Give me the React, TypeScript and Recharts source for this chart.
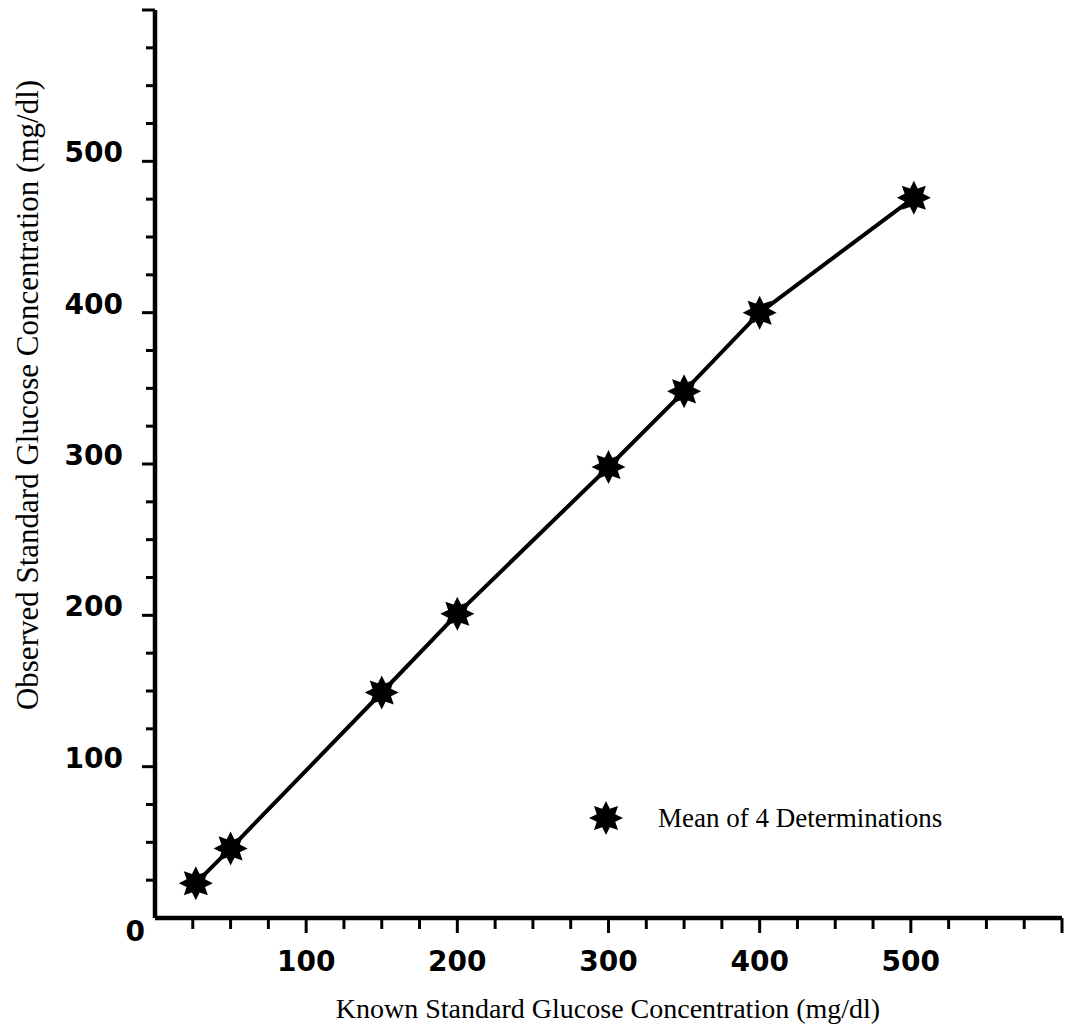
import { LineChart, Line, XAxis, YAxis, Legend } from "recharts";

// glucose standards: known vs observed (mean of 4 runs)
const knownConc = [27, 50, 150, 200, 300, 350, 400, 502];
const observedConc = [23, 46, 149, 201, 298, 348, 400, 476];

const xTicks = [25, 50, 75, 100, 125, 150, 175, 200, 225, 250, 275, 300, 325, 350, 375, 400, 425, 450, 475, 500, 525, 550, 575, 600];
const yTicks = [0, 25, 50, 75, 100, 125, 150, 175, 200, 225, 250, 275, 300, 325, 350, 375, 400, 425, 450, 475, 500, 525, 550, 575, 600];
const labelledTicks = [100, 200, 300, 400, 500];

const xTitle = "Known Standard Glucose Concentration (mg/dl)";
const yTitle = "Observed Standard Glucose Concentration (mg/dl)";
const legendLabel = "Mean of 4 Determinations";

const data = knownConc.map((k, i) => ({ known: k, observed: observedConc[i] }));

const tickFont = { fontFamily: "DejaVu Sans", fontWeight: 700, fontSize: 28 };
const serif = "Liberation Serif";

function starPoints(cx: number, cy: number, outer: number, inner: number) {
  const pts: string[] = [];
  for (let i = 0; i < 16; i++) {
    const r = i % 2 === 0 ? outer : inner;
    const a = (Math.PI / 8) * i - Math.PI / 2;
    pts.push(`${cx + r * Math.cos(a)},${cy + r * Math.sin(a)}`);
  }
  return pts.join(" ");
}

function XTick(props: any) {
  const { x, y, payload } = props;
  const v = payload.value;
  const major = v % 100 === 0;
  return (
    <g>
      <line x1={x} x2={x} y1={y} y2={y + (major ? 15 : 11)} stroke="#000" strokeWidth={3} />
      {labelledTicks.includes(v) && (
        <text x={x} y={y + 53} textAnchor="middle" fill="#000" {...tickFont}>
          {v}
        </text>
      )}
    </g>
  );
}

function YTick(props: any) {
  const { x, y, payload } = props;
  const v = payload.value;
  if (v === 0) {
    return (
      <text x={x - 10} y={y + 23} textAnchor="end" fill="#000" {...tickFont}>
        {v}
      </text>
    );
  }
  const major = v % 100 === 0;
  return (
    <g>
      <line x1={x - (major ? 13 : 9)} x2={x} y1={y} y2={y} stroke="#000" strokeWidth={3} />
      {labelledTicks.includes(v) && (
        <text x={x - 32} y={y + 1} textAnchor="end" fill="#000" {...tickFont}>
          {v}
        </text>
      )}
    </g>
  );
}

export default function App() {
  return (
    <div style={{ position: "absolute", left: 0, top: 0, background: "#fff" }}>
      <LineChart width={1073} height={1034} data={data} margin={{ top: 10, right: 11, bottom: 0, left: 0 }}>
        <XAxis
          dataKey="known"
          type="number"
          domain={[0, 600]}
          ticks={xTicks}
          interval={0}
          height={116}
          tickSize={0}
          tickMargin={0}
          tickLine={false}
          axisLine={{ stroke: "#000", strokeWidth: 4.5 }}
          tick={<XTick />}
          label={() => (
            <text x={608} y={1018} textAnchor="middle" fill="#000" fontFamily={serif} fontSize={28}>
              {xTitle}
            </text>
          )}
        />
        <YAxis
          dataKey="observed"
          type="number"
          domain={[0, 600]}
          ticks={yTicks}
          interval={0}
          width={155}
          tickSize={0}
          tickMargin={0}
          tickLine={false}
          axisLine={{ stroke: "#000", strokeWidth: 4.5 }}
          tick={<YTick />}
          label={() => (
            <text
              x={38}
              y={395}
              transform="rotate(-90 38 395)"
              textAnchor="middle"
              fill="#000"
              fontFamily={serif}
              fontSize={31}
            >
              {yTitle}
            </text>
          )}
        />
        <Legend
          layout="horizontal"
          verticalAlign="middle"
          align="center"
          wrapperStyle={{ left: 588, top: 798, width: 420, height: 40 }}
          content={() => (
            <svg width={420} height={40}>
              <polygon points={starPoints(18, 20, 17, 10)} fill="#000" />
              <text x={70} y={29} fill="#000" fontFamily={serif} fontSize={27}>
                {legendLabel}
              </text>
            </svg>
          )}
        />
        <Line
          type="linear"
          dataKey="observed"
          stroke="#000"
          strokeWidth={4}
          isAnimationActive={false}
          dot={(p: any) => <polygon key={p.index} points={starPoints(p.cx, p.cy, 17, 10)} fill="#000" />}
          activeDot={false}
        />
      </LineChart>
    </div>
  );
}
